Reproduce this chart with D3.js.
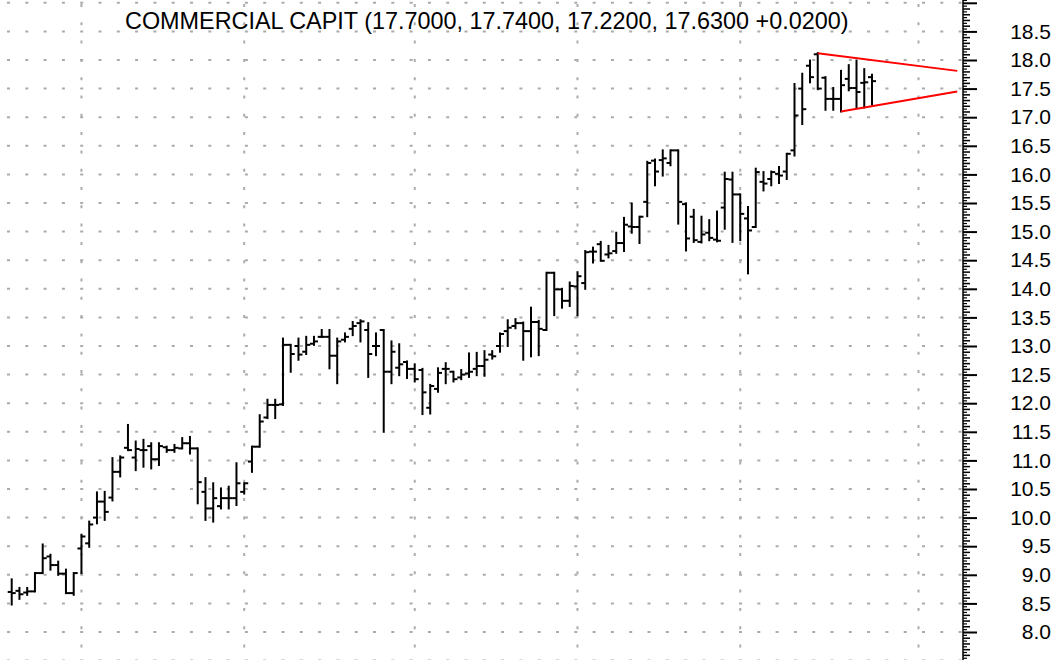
<!DOCTYPE html>
<html><head><meta charset="utf-8">
<script src="https://cdn.jsdelivr.net/npm/d3@7"></script>
<style>body{margin:0;background:#fff;} svg{display:block;}</style>
</head><body>
<svg id="c" width="1061" height="660"></svg>
<script>
const title = "COMMERCIAL CAPIT (17.7000, 17.7400, 17.2200, 17.6300 +0.0200)";
const opens = [8.70,8.72,8.69,8.71,9.03,9.32,9.17,9.02,8.68,9.46,
  9.55,10.00,10.28,10.35,10.80,11.22,11.05,11.18,11.25,11.02,
  11.23,11.18,11.21,11.30,11.21,10.45,10.16,10.20,10.34,10.34,
  10.45,10.98,11.24,11.75,11.97,11.98,13.02,13.00,12.90,13.04,
  13.16,13.16,12.83,13.11,13.30,13.40,13.28,13.00,13.28,12.55,
  12.62,12.72,12.60,12.58,11.92,12.25,12.60,12.55,12.45,12.52,
  12.60,12.65,12.85,13.00,13.26,13.35,13.40,13.26,13.42,13.28,
  14.28,13.99,13.79,14.04,14.10,14.65,14.78,14.60,14.66,14.80,
  15.09,15.08,15.52,16.24,16.25,16.20,16.42,15.48,15.26,14.82,
  14.98,14.86,15.42,15.91,15.65,15.23,15.08,15.87,15.92,16.01,
  16.05,16.42,17.50,17.90,18.10,17.69,17.32,17.32,17.67,17.51,
  17.60,17.70];
const highs = [8.92,8.77,8.77,9.03,9.53,9.35,9.23,9.09,9.03,9.70,
  9.93,10.44,10.45,11.04,11.07,11.62,11.33,11.36,11.30,11.30,
  11.24,11.27,11.39,11.41,11.21,10.69,10.60,10.51,10.54,10.95,
  10.60,11.24,11.79,12.06,12.06,13.13,13.02,13.13,13.16,13.16,
  13.28,13.28,13.13,13.22,13.42,13.45,13.40,13.22,13.28,13.08,
  13.03,12.73,12.68,12.60,12.32,12.61,12.70,12.55,12.58,12.87,
  12.88,12.91,12.91,13.22,13.45,13.47,13.41,13.67,13.44,14.28,
  14.28,14.00,14.11,14.29,14.66,14.72,14.82,14.75,14.98,15.24,
  15.49,15.26,16.22,16.26,16.42,16.42,16.42,15.49,15.38,15.26,
  15.20,15.35,16.03,16.03,15.65,15.43,16.10,16.04,16.05,16.13,
  16.36,17.58,17.76,17.99,18.12,17.70,17.51,17.81,17.91,17.99,
  17.84,17.74];
const lows = [8.48,8.58,8.65,8.71,9.03,9.09,9.00,8.68,8.65,9.03,
  9.49,9.90,9.96,10.30,10.72,11.18,10.83,10.89,10.86,10.92,
  11.15,11.15,11.21,11.12,10.25,9.96,9.93,10.16,10.16,10.22,
  10.42,10.80,11.24,11.74,11.74,11.97,12.55,12.76,12.86,13.02,
  13.16,12.61,12.35,13.08,13.19,13.08,12.46,12.84,11.50,12.35,
  12.49,12.44,12.38,11.81,11.82,12.20,12.35,12.38,12.42,12.46,
  12.49,12.48,12.78,12.90,13.00,13.31,12.76,12.82,12.84,13.28,
  13.54,13.67,13.70,13.54,14.00,14.46,14.49,14.55,14.63,14.66,
  14.98,14.80,15.27,15.81,15.98,16.16,15.14,14.67,14.82,14.81,
  14.85,14.83,15.05,14.82,14.85,14.27,15.08,15.72,15.81,15.85,
  15.92,16.33,16.88,17.61,17.49,17.13,17.13,17.10,17.47,17.17,
  17.17,17.22];
const closes = [8.68,8.66,8.71,9.03,9.29,9.17,9.02,8.68,9.03,9.67,
  9.88,10.28,10.10,10.80,11.05,11.18,11.20,11.18,11.02,11.25,
  11.18,11.22,11.30,11.21,10.62,10.16,10.34,10.34,10.34,10.60,
  10.60,11.24,11.68,11.97,11.97,13.02,12.86,12.85,13.02,13.08,
  13.16,12.83,13.08,13.16,13.35,13.43,12.86,13.00,12.55,12.90,
  12.68,12.60,12.42,12.19,12.30,12.53,12.60,12.42,12.50,12.55,
  12.65,12.76,12.82,13.21,13.32,13.40,13.26,13.42,13.30,14.28,
  13.99,13.79,14.05,14.22,14.64,14.65,14.49,14.62,14.80,15.12,
  15.08,15.26,16.20,16.05,16.28,16.42,15.52,14.88,14.85,14.95,
  14.89,14.84,15.92,15.65,15.31,15.02,16.04,15.84,16.04,15.98,
  16.36,17.03,17.14,17.70,17.50,17.32,17.32,17.56,17.51,17.44,
  17.61,17.63];
const monthStarts = [9, 30, 52, 73, 94, 117];
const yTickValues = [8.0,8.5,9.0,9.5,10.0,10.5,11.0,11.5,12.0,12.5,13.0,13.5,14.0,14.5,15.0,15.5,16.0,16.5,17.0,17.5,18.0,18.5];
const gridValues = [7.5,8.0,8.5,9.0,9.5,10.0,10.5,11.0,11.5,12.0,12.5,13.0,13.5,14.0,14.5,15.0,15.5,16.0,16.5,17.0,17.5,18.0,18.5,19.0];
const trendUpper = [[104, 18.12], [122, 17.81]];
const trendLower = [[107, 17.10], [122, 17.45]];

const W = 1061, H = 660, axisX = 963;
const svg = d3.select("#c");
const x = d3.scaleLinear().domain([0, 111]).range([11.7, 872]);
const y = d3.scaleLinear().domain([8, 18.5]).range([632, 31.4]);

const bars = opens.map((o, i) => ({i, o, h: highs[i], l: lows[i], c: closes[i]}));

// grid
const g = svg.append("g");
g.selectAll("line.h").data(gridValues).join("line")
  .attr("x1", 7).attr("x2", axisX).attr("y1", d => y(d)).attr("y2", d => y(d))
  .attr("stroke", "#ababab").attr("stroke-width", 2).attr("stroke-dasharray", "3,15.3");
g.selectAll("line.v").data(monthStarts).join("line")
  .attr("x1", d => x(d)).attr("x2", d => x(d)).attr("y1", 4).attr("y2", H)
  .attr("stroke", "#ababab").attr("stroke-width", 2).attr("stroke-dasharray", "3,15.3");

// title
svg.append("text").attr("x", 125).attr("y", 29)
  .attr("font-family", "Liberation Sans, Arial, sans-serif").attr("font-size", 23.4)
  .attr("fill", "#000").text(title);

// bars
const bg = svg.append("g").attr("stroke", "#000").attr("stroke-width", 2).attr("fill", "none");
bg.selectAll("line.hl").data(bars).join("line")
  .attr("x1", d => x(d.i)).attr("x2", d => x(d.i))
  .attr("y1", d => y(d.h) - 1).attr("y2", d => y(d.l) + 1);
bg.selectAll("line.o").data(bars).join("line")
  .attr("x1", d => x(d.i) - 4).attr("x2", d => x(d.i))
  .attr("y1", d => y(d.o)).attr("y2", d => y(d.o));
bg.selectAll("line.c").data(bars).join("line")
  .attr("x1", d => x(d.i)).attr("x2", d => x(d.i) + 4)
  .attr("y1", d => y(d.c)).attr("y2", d => y(d.c));

// trend lines
const line = d3.line().x(d => x(d[0])).y(d => y(d[1]));
[trendUpper, trendLower].forEach(t => {
  svg.append("path").attr("d", line(t)).attr("stroke", "#ff0000").attr("stroke-width", 2).attr("fill", "none");
});

// axis
const minor = d3.range(75, 191).map(v => v / 10).filter(v => Math.abs(v * 2 - Math.round(v * 2)) > 1e-6);
const ax = svg.append("g").attr("transform", `translate(${axisX},0)`);
ax.append("line").attr("x1", 0).attr("x2", 0).attr("y1", 0).attr("y2", H).attr("stroke", "#000").attr("stroke-width", 1.5);
ax.append("g").call(d3.axisRight(y).tickValues(minor).tickSize(7).tickFormat(""))
  .call(s => s.select(".domain").remove())
  .selectAll("line").attr("stroke-width", 1.5);
const fine = d3.range(150, 382).map(v => v / 20).filter(v => Math.abs(v * 10 - Math.round(v * 10)) > 1e-6);
ax.append("g").call(d3.axisRight(y).tickValues(fine).tickSize(4).tickFormat(""))
  .call(s => s.select(".domain").remove())
  .selectAll("line").attr("stroke-width", 1.2);
const maj = ax.append("g").call(d3.axisRight(y).tickValues(gridValues).tickSize(14).tickFormat(d => yTickValues.includes(d) ? d3.format(".1f")(d) : ""));
maj.select(".domain").remove();
maj.selectAll("line").attr("stroke-width", 2);
maj.selectAll("text").attr("x", 88).attr("text-anchor", "end")
  .attr("font-family", "Liberation Sans, Arial, sans-serif").attr("font-size", 21).attr("fill", "#000");
</script>
</body></html>
